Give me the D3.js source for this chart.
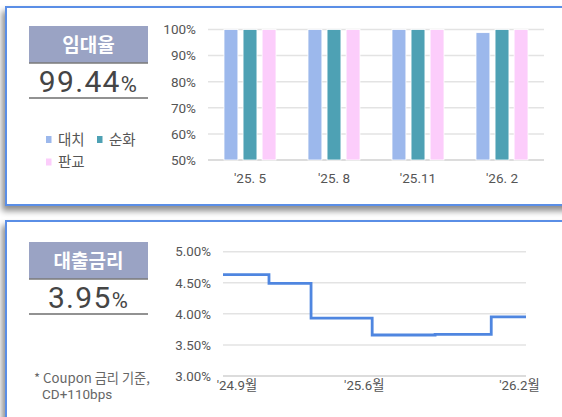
<!DOCTYPE html>
<html><head><meta charset="utf-8">
<script src="https://cdn.jsdelivr.net/npm/d3@7"></script>
<style>
html,body{margin:0;padding:0;background:#fff;overflow:hidden}
svg{display:block}
text{font-family:Roboto,"Noto Sans CJK KR",sans-serif}
</style></head><body>
<svg id="c" width="562" height="417"></svg>
<script>
// ---- data ----
const occCategories = ["'25. 5", "'25. 8", "'25.11", "'26. 2"];
const occSeries = ["대치", "순화", "판교"];
const occDaechi = [100, 100, 100, 98.8];
const occSunhwa = [100, 100, 100, 100];
const occPangyo = [100, 100, 100, 100];
const occTicks = [50, 60, 70, 80, 90, 100];
const occHeadline = "99.44";

const rateMonths = [0, 2.58, 4.94, 8.37, 11.9, 15.05, 17];
const rateValues = [4.63, 4.49, 3.93, 3.66, 3.67, 3.95, 3.95];
const rateTicks = [3.0, 3.5, 4.0, 4.5, 5.0];
const rateTickLabels = ["'24.9월", "'25.6월", "'26.2월"];
const rateTickMonths = [0.75, 7.9, 16.6];
const rateHeadline = "3.95";

const colors = ["#9cb8ec", "#4ea1b4", "#fccdfb"];
const svg = d3.select("#c");

const defs = svg.append("defs");
const f = defs.append("filter").attr("id","sh").attr("x","-10%").attr("y","-10%").attr("width","130%").attr("height","130%");
f.append("feDropShadow").attr("dx",-3).attr("dy",5).attr("stdDeviation",3).attr("flood-color","#000").attr("flood-opacity",0.45);

function panel(y, h){
  svg.append("rect").attr("x",6).attr("y",y).attr("width",620).attr("height",h)
    .attr("fill","#fff").attr("stroke","#5a8ee6").attr("stroke-width",2).attr("filter","url(#sh)");
}
panel(7, 198);
panel(221, 230);

function headline(y, title, value){
  svg.append("rect").attr("x",29).attr("y",y).attr("width",119).attr("height",37).attr("fill","#9aa3c4");
  svg.append("line").attr("x1",29).attr("x2",148).attr("y1",y+37).attr("y2",y+37).attr("stroke","#7a7a7a").attr("stroke-width",1.5);
  svg.append("text").attr("x",88.5).attr("y",y+25.5).attr("text-anchor","middle")
    .attr("fill","#fff").attr("font-size",19).attr("font-weight","bold")
    .style("font-family","'Noto Sans CJK KR',sans-serif").text(title);
  const t = svg.append("text").attr("x",88.5).attr("y",y+65.5).attr("text-anchor","middle")
    .attr("fill","#454545").attr("font-size",30).attr("font-weight",400).style("letter-spacing","1.3px");
  t.append("tspan").text(value);
  t.append("tspan").attr("font-size",22).text("%");
  svg.append("line").attr("x1",29).attr("x2",148).attr("y1",y+72).attr("y2",y+72).attr("stroke","#6e6e6e").attr("stroke-width",1.5);
}
headline(26, "임대율", occHeadline);
headline(242, "대출금리", rateHeadline);

// ---- legend ----
const legPos = [[46,139.5],[97,139.5],[46,162]];
occSeries.forEach((s,i)=>{
  const [lx,ly] = legPos[i];
  svg.append("rect").attr("x",lx).attr("y",ly-3.5).attr("width",5.5).attr("height",7).attr("fill",colors[i]);
  svg.append("text").attr("x",lx+12).attr("y",ly+5).attr("font-size",14.5).attr("fill","#555")
    .style("font-family","'Noto Sans CJK KR',sans-serif").text(s);
});
// ---- bar chart ----
const xb = d3.scaleBand().domain(occCategories).range([208,544]);
const yb = d3.scaleLinear().domain([50,100]).range([160,29.5]);
const gb = svg.append("g");
gb.selectAll("line.g").data(occTicks).join("line")
  .attr("x1",208).attr("x2",544).attr("y1",d=>yb(d)).attr("y2",d=>yb(d))
  .attr("stroke",d=>d===50?"#d0d0d0":"#e3e3e3").attr("stroke-width",1.5);
const yAxisB = d3.axisLeft(yb).tickValues(occTicks).tickFormat(d=>d+"%").tickSize(0).tickPadding(0);
const ya = svg.append("g").attr("transform","translate(196,0)").call(yAxisB);
ya.select(".domain").remove();
ya.selectAll("text").attr("font-size",13.5).attr("fill","#555").style("font-family","Roboto");
const xs = d3.scaleBand().domain(occSeries).range([-26,26]).paddingInner(0.27);
const series = [occDaechi, occSunhwa, occPangyo];
occCategories.forEach((c,ci)=>{
  occSeries.forEach((s,si)=>{
    const v = series[si][ci];
    gb.append("rect").attr("x",xb(c)+xb.bandwidth()/2+xs(s)).attr("width",xs.bandwidth())
      .attr("y",yb(v)).attr("height",yb(50)-yb(v)).attr("fill",colors[si])
      .attr("stroke","#fff").attr("stroke-width",0.8);
  });
});
const xAxisB = d3.axisBottom(xb).tickSize(0).tickPadding(0);
const xa = svg.append("g").attr("transform","translate(0,173)").call(xAxisB);
xa.select(".domain").remove();
xa.selectAll("text").attr("font-size",13.5).attr("fill","#555").attr("dy","0.71em").style("font-family","Roboto");

// ---- rate chart ----
svg.append("text").attr("x",34).attr("y",383).attr("font-size",13.2).attr("fill","#666")
  .style("font-family","'Noto Sans CJK KR',Roboto,sans-serif").text("* Coupon 금리 기준,");
svg.append("text").attr("x",42).attr("y",398.5).attr("font-size",13.5).attr("fill","#666")
  .style("font-family","Roboto,sans-serif").text("CD+110bps");

const xr = d3.scaleLinear().domain([0,17]).range([223,526]);
const yr = d3.scaleLinear().domain([3,5]).range([376,251.7]);
svg.append("g").selectAll("line").data(rateTicks).join("line")
  .attr("x1",223).attr("x2",526).attr("y1",d=>yr(d)).attr("y2",d=>yr(d))
  .attr("stroke",d=>d===3?"#d0d0d0":"#e3e3e3").attr("stroke-width",1.5);
const yra = svg.append("g").attr("transform","translate(211,0)")
  .call(d3.axisLeft(yr).tickValues(rateTicks).tickFormat(d=>d.toFixed(2)+"%").tickSize(0).tickPadding(0));
yra.select(".domain").remove();
yra.selectAll("text").attr("font-size",13.3).attr("fill","#555");
const xra = svg.append("g").attr("transform","translate(0,381)")
  .call(d3.axisBottom(xr).tickValues(rateTickMonths).tickFormat((d,i)=>rateTickLabels[i]).tickSize(0).tickPadding(0));
xra.select(".domain").remove();
xra.selectAll("text").attr("font-size",13.3).attr("fill","#555").attr("dy","0.71em")
  .style("font-family","Roboto,'Noto Sans CJK KR',sans-serif");

const pts = rateMonths.map((m,i)=>[m, rateValues[i]]);
svg.append("path").datum(pts)
  .attr("d", d3.line().x(d=>xr(d[0])).y(d=>yr(d[1])).curve(d3.curveStepAfter))
  .attr("fill","none").attr("stroke","#4f86e0").attr("stroke-width",2.8);
</script>
</body></html>
